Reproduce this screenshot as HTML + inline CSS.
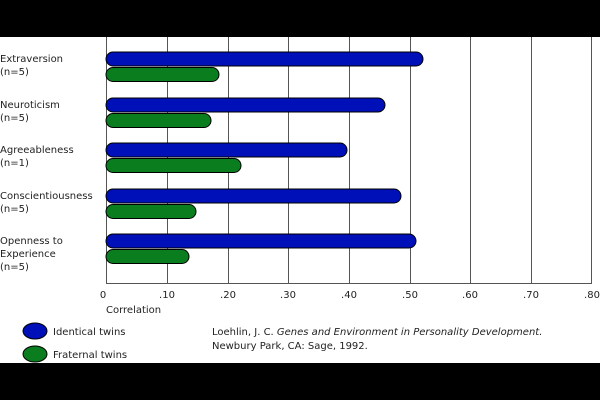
<!DOCTYPE html><html><head><style>body{margin:0;background:#fff}svg{display:block}text{font-family:"DejaVu Sans",sans-serif;font-size:10px;fill:#222}</style></head><body>
<svg width="600" height="400">
<rect width="600" height="400" fill="#fff"/>
<rect width="600" height="37" fill="#000"/>
<rect y="363" width="600" height="37" fill="#000"/>
<g stroke="#555" stroke-width="1">
<line x1="106.5" y1="37" x2="106.5" y2="283"/>
<line x1="167.5" y1="37" x2="167.5" y2="283"/><line x1="228.5" y1="37" x2="228.5" y2="283"/><line x1="288.5" y1="37" x2="288.5" y2="283"/><line x1="349.5" y1="37" x2="349.5" y2="283"/><line x1="410.5" y1="37" x2="410.5" y2="283"/><line x1="470.5" y1="37" x2="470.5" y2="283"/><line x1="531.5" y1="37" x2="531.5" y2="283"/><line x1="591.5" y1="37" x2="591.5" y2="283"/>
<line x1="106" y1="283.5" x2="592" y2="283.5"/>
</g>
<g stroke="#000" stroke-width="1">
<rect x="106" y="52" width="317" height="14" rx="7" fill="#0010b8"/>
<rect x="106" y="67.5" width="113" height="14" rx="7" fill="#0a7d1e"/>
<rect x="106" y="98" width="279" height="14" rx="7" fill="#0010b8"/>
<rect x="106" y="113.5" width="105" height="14" rx="7" fill="#0a7d1e"/>
<rect x="106" y="143" width="241" height="14" rx="7" fill="#0010b8"/>
<rect x="106" y="158.5" width="135" height="14" rx="7" fill="#0a7d1e"/>
<rect x="106" y="189" width="295" height="14" rx="7" fill="#0010b8"/>
<rect x="106" y="204.5" width="90" height="14" rx="7" fill="#0a7d1e"/>
<rect x="106" y="234" width="310" height="14" rx="7" fill="#0010b8"/>
<rect x="106" y="249.5" width="83" height="14" rx="7" fill="#0a7d1e"/>
<ellipse cx="35" cy="331" rx="12" ry="8" fill="#0010b8"/>
<ellipse cx="35" cy="354" rx="12" ry="8" fill="#0a7d1e"/>
</g>
<text x="0" y="62">Extraversion</text><text x="0" y="75">(n=5)</text>
<text x="0" y="108">Neuroticism</text><text x="0" y="121">(n=5)</text>
<text x="0" y="153">Agreeableness</text><text x="0" y="166">(n=1)</text>
<text x="0" y="199">Conscientiousness</text><text x="0" y="212">(n=5)</text>
<text x="0" y="244">Openness to</text><text x="0" y="257">Experience</text><text x="0" y="270">(n=5)</text>
<g text-anchor="middle">
<text x="103" y="298">0</text><text x="167" y="298">.10</text><text x="228" y="298">.20</text><text x="288" y="298">.30</text><text x="349" y="298">.40</text><text x="410" y="298">.50</text><text x="470" y="298">.60</text><text x="531" y="298">.70</text><text x="592" y="298">.80</text>
</g>
<text x="106" y="313">Correlation</text>
<text x="53" y="335">Identical twins</text>
<text x="53" y="358">Fraternal twins</text>
<text x="212" y="335">Loehlin, J. C.  <tspan font-style="italic">Genes and Environment in Personality Development.</tspan></text>
<text x="212" y="349">Newbury Park, CA: Sage, 1992.</text>
</svg></body></html>
